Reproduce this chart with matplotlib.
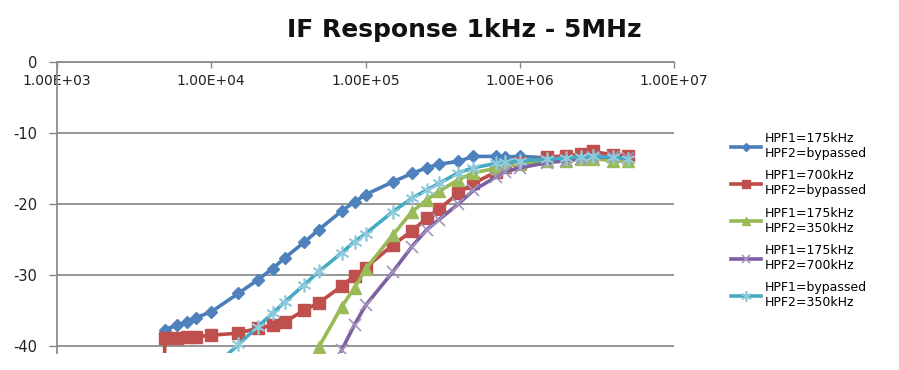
import numpy as np
import matplotlib
matplotlib.use("Agg")
import matplotlib.pyplot as plt
from matplotlib.ticker import NullLocator

nan = np.nan
freq_hz = [4.9e3, 5e3, 6e3, 7e3, 8e3, 10e3, 15e3, 20e3, 25e3, 30e3, 40e3, 50e3, 70e3, 85e3,
           100e3, 150e3, 200e3, 250e3, 300e3, 400e3, 500e3, 700e3, 800e3,
           1e6, 1.5e6, 2e6, 2.5e6, 3e6, 4e6, 5e6]

hpf175_bypass = [nan, -37.7, -37.1, -36.6, -36.0, -35.2, -32.6, -30.7, -29.1, -27.6, -25.4, -23.6, -21.0, -19.7,
                 -18.7, -16.9, -15.7, -14.9, -14.4, -14.0, -13.3, -13.3, -13.4,
                 -13.3, -13.5, -13.6, -13.5, -13.4, -13.6, -13.7]
hpf700_bypass = [-60.0, -38.9, -38.9, -38.8, -38.7, -38.5, -38.2, -37.5, -37.1, -36.6, -35.0, -33.9, -31.6, -30.1,
                 -29.0, -25.8, -23.8, -22.0, -20.7, -18.5, -17.1, -15.5, -14.8,
                 -14.2, -13.4, -13.2, -13.0, -12.6, -13.1, -13.2]
hpf175_350 = [nan, nan, nan, nan, nan, nan, nan, nan, nan, nan, -44.5, -40.1, -34.5, -31.8,
              -29.2, -24.4, -21.1, -19.4, -18.2, -16.6, -15.6, -15.0, -14.7,
              -14.4, -14.0, -13.9, -13.7, -13.6, -13.9, -14.0]
hpf175_700 = [nan, nan, nan, nan, nan, nan, nan, nan, nan, nan, nan, -48.0, -40.6, -37.0,
              -34.3, -29.6, -26.0, -23.6, -22.2, -20.0, -18.1, -16.2, -15.5,
              -14.9, -14.2, -13.9, -13.6, -13.4, -13.4, -13.5]
bypass_350 = [nan, nan, nan, nan, nan, -43.3, -39.8, -37.3, -35.4, -33.8, -31.4, -29.5, -26.9, -25.3,
              -24.2, -21.1, -19.2, -18.0, -17.1, -15.6, -14.9, -14.3, -14.1,
              -13.9, -13.7, -13.5, -13.4, -13.3, -13.4, -13.6]

labels = ["HPF1=175kHz\nHPF2=bypassed", "HPF1=700kHz\nHPF2=bypassed",
          "HPF1=175kHz\nHPF2=350kHz", "HPF1=175kHz\nHPF2=700kHz",
          "HPF1=bypassed\nHPF2=350kHz"]
x_ticks = [1e3, 1e4, 1e5, 1e6, 1e7]
x_tick_labels = ["1.00E+03", "1.00E+04", "1.00E+05", "1.00E+06", "1.00E+07"]
y_ticks = [0, -10, -20, -30, -40]
title = "IF Response 1kHz - 5MHz"

plt.rcParams['font.family'] = ['DejaVu Sans']

fig = plt.figure(figsize=(8.99, 3.70), dpi=100)
ax = fig.add_axes([57/899, 1-353/370, (674-57)/899, (353-62)/370])

styles = [
    dict(color="#4A7EBB", marker="D", ms=6, mfc="#4F81BD", mec="#4F81BD"),
    dict(color="#BE4B48", marker="s", ms=8, mfc="#C0504D", mec="#C0504D"),
    dict(color="#98B954", marker="^", ms=8, mfc="#9BBB59", mec="#9BBB59"),
    dict(color="#7D60A0", marker="x", ms=8, mfc="none", mec="#A493C0", mew=1.2),
    dict(color="#46AAC5", marker=(6, 2, 0), ms=10, mfc="none", mec="#8FCADB", mew=1.2),
]
series = [hpf175_bypass, hpf700_bypass, hpf175_350, hpf175_700, bypass_350]
for vals, lab, st in zip(series, labels, styles):
    ax.plot(freq_hz, vals, lw=2.6, label=lab, clip_on=True, **st)

ax.set_xscale("log")
ax.set_xlim(1e3, 1e7)
ax.set_ylim(-41, 0)
ax.set_xticks(x_ticks)
ax.set_xticklabels(x_tick_labels)
ax.xaxis.set_minor_locator(NullLocator())
ax.set_yticks(y_ticks)
ax.set_yticklabels([str(v) for v in y_ticks])

ax.xaxis.set_ticks_position("top")
ax.tick_params(axis="x", direction="in", length=4, width=1, color="#868686",
               labelsize=10, pad=-19, labelcolor="#222222")
ax.tick_params(axis="y", direction="out", length=6, width=1, color="#868686",
               labelsize=10.5, pad=8, labelcolor="#222222")
ax.grid(axis="y", color="#8C8C8C", lw=1.3)
ax.set_axisbelow(True)
for s in ["right", "bottom"]:
    ax.spines[s].set_visible(False)
ax.spines["top"].set_color("#8C8C8C")
ax.spines["top"].set_linewidth(1.3)
ax.spines["left"].set_color("#8C8C8C")
ax.spines["left"].set_linewidth(1.3)

fig.text(0.517, 1-30/370, title, ha="center", va="center", fontsize=18, fontweight="bold", color="#111111")

fig.legend(loc="upper left", bbox_to_anchor=(731/899, 1-132/370), frameon=False,
           fontsize=9, handlelength=2.4, handletextpad=0.3, labelspacing=0.75,
           borderpad=0, borderaxespad=0, markerscale=0.75)

fig.savefig("out.png", dpi=100)
